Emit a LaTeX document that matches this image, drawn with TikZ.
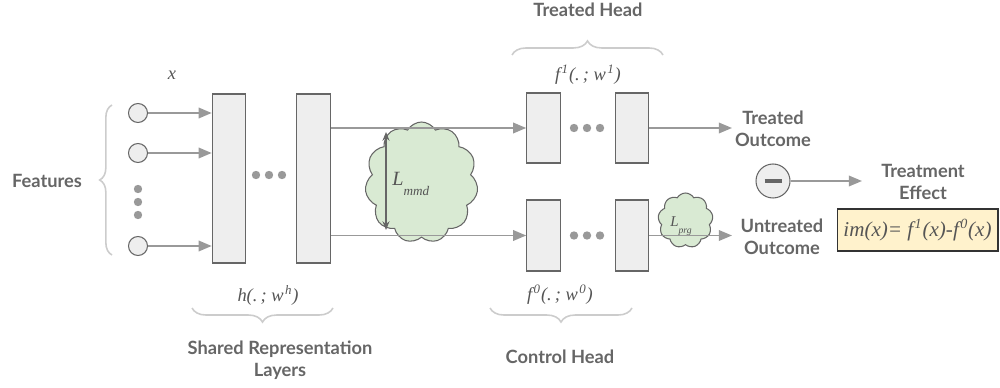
\documentclass[tikz,border=0pt]{standalone}
\usepackage{fontspec}
\setmainfont{Liberation Serif}
\newfontfamily\lab{Lato}
\usetikzlibrary{shapes.symbols,arrows.meta,decorations.pathreplacing}
\definecolor{txt}{HTML}{666666}
\definecolor{mathc}{HTML}{555555}
\definecolor{boxd}{HTML}{666666}
\definecolor{boxf}{HTML}{EEEEEE}
\definecolor{arrc}{HTML}{999999}
\definecolor{brcc}{HTML}{CCCCCC}
\definecolor{cloudf}{HTML}{D9EAD3}
\definecolor{yel}{HTML}{FFF2CC}
\newcommand\supx[1]{\kern0.8pt\textsuperscript{#1}}
\begin{document}
\begin{tikzpicture}[x=0.02cm,y=-0.02cm,
  lbl/.style={font=\lab\bfseries\fontsize{10.4}{12.5}\selectfont, text=txt, align=center, inner sep=0},
  mth/.style={font=\itshape\fontsize{10.5}{12}\selectfont, text=mathc, inner sep=0},
  layer/.style={draw=boxd, fill=boxf, line width=0.6pt, inner sep=0, minimum width=0.67cm},
  inp/.style={circle, draw=boxd, fill=boxf, line width=0.6pt, inner sep=0, minimum size=0.38cm},
  arr/.style={draw=arrc, line width=1.1pt, -{Triangle[length=7.5pt,width=6pt]}},
  brc/.style={draw=brcc, line width=0.9pt, decorate, decoration={brace, amplitude=8pt}},
  dotc/.style={fill=arrc},
  cld/.style={cloud, cloud ignores aspect, draw=boxd, fill=cloudf, line width=0.6pt, inner sep=0}
]
\useasboundingbox (0,0) rectangle (1000,388);

% inputs
\node[inp] (c1) at (138,113) {};
\node[inp] (c2) at (138,153) {};
\node[inp] (c4) at (138,246) {};
\foreach \y in {189,202,215} \fill[dotc] (138,\y) circle (4.2);

% layers
\node[layer, minimum height=3.38cm] (h1) at (229,178.5) {};
\node[layer, minimum height=3.38cm] (h2) at (313.5,178.5) {};
\node[layer, minimum height=1.4cm] (t1) at (543.5,128) {};
\node[layer, minimum height=1.4cm] (t2) at (632,128) {};
\node[layer, minimum height=1.42cm] (u1) at (543.5,235.5) {};
\node[layer, minimum height=1.42cm] (u2) at (632,235.5) {};
\foreach \x in {256,269,282} \fill[dotc] (\x,175) circle (4.2);
\foreach \x in {574,587,600} {\fill[dotc] (\x,128) circle (4.2); \fill[dotc] (\x,235.5) circle (4.2);}

% clouds
\node[cld, cloud puffs=11, cloud puff arc=120, minimum width=2.26cm, minimum height=2.42cm] (mmd) at (421.5,182.5) {};
\node[cld, cloud puffs=9, cloud puff arc=120, minimum width=1.1cm, minimum height=1.1cm] (prg) at (685.5,220.5) {};

% arrows
\draw[arr] (c1.east) -- (h1.west |- c1);
\draw[arr] (c2.east) -- (h1.west |- c2);
\draw[arr] (c4.east) -- (h1.west |- c4);
\draw[arr] (h2.east |- t1) -- (t1.west);
\draw[arr] (h2.east |- u1) -- (u1.west);
\coordinate (tend) at (732,128);
\coordinate (uend) at (732,235.5);
\draw[arr] (t2.east) -- (tend);
\draw[arr] (u2.east) -- (uend);

% mmd arrow
\coordinate (mt) at (386,132);
\coordinate (mb) at (386,230);
\draw[draw=boxd, line width=0.6pt, {Stealth[length=5pt,width=4pt]}-{Stealth[length=5pt,width=4pt]}] (mt) -- (mb);
\node[inner sep=0, text=mathc, anchor=west] (lmmd) at (392,184) {\fontsize{11.5}{12}\selectfont\itshape L\raisebox{-1.1ex}{\fontsize{7.5}{8}\selectfont mmd}};
\node[inner sep=0, text=mathc] (lprg) at (681,226) {\fontsize{8.5}{10}\selectfont\itshape L\raisebox{-1ex}{\fontsize{5.5}{6}\selectfont prg}};

% minus
\node[circle, draw=boxd, fill=boxf, line width=0.6pt, minimum size=0.68cm, inner sep=0] (m) at (773,181) {};
\draw[boxd, line width=2.3pt] ([xshift=-0.17cm]m.center) -- ([xshift=0.17cm]m.center);
\coordinate (eend) at (862,181);
\draw[arr] (m.east) -- (eend);

% texts
\node[mth] (xl) at (172,75) {x};
\node[lbl] (feat) at (47,181) {Features};
\node[lbl] (tout) at (773,129) {Treated\\Outcome};
\node[lbl] (uout) at (782,237) {Untreated\\Outcome};
\node[lbl] (teff) at (923,182) {Treatment\\Effect};
\node[lbl] (thead) at (588,10) {Treated Head};
\node[lbl] (chead) at (560,357) {Control Head};
\node[lbl] (shr) at (280,360) {Shared Representation\\Layers};
\node[mth] (hl) at (268,295) {h(.\,; w\supx{h})};
\node[mth] (f0) at (560,295) {f\supx{0}(.\,; w\supx{0})};
\node[mth] (f1) at (588,75) {f\supx{1}(.\,; w\supx{1})};

% formula box
\node[draw=black!80, fill=yel, line width=0.6pt, minimum width=3.22cm, minimum height=0.84cm, inner sep=0, text=mathc, font=\itshape\fontsize{12}{14}\selectfont] (im) at (917.5,230) {im(x)= f\supx{1}(x)-f\supx{0}(x)};

% braces
\draw[brc, decoration={amplitude=7pt}] (112,255) -- (112,105);
\draw[brc] (512,55) -- (663,55);
\draw[brc] (333,308) -- (192,308);
\draw[brc] (632,308) -- (490,308);
\end{tikzpicture}
\end{document}
